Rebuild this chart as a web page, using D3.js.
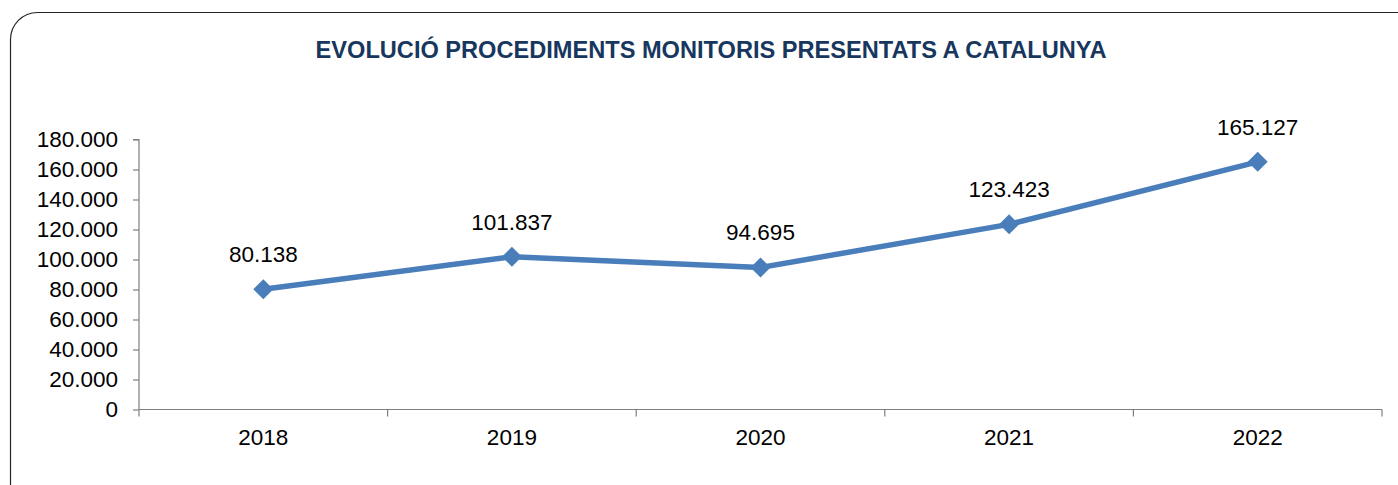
<!DOCTYPE html>
<html><head><meta charset="utf-8">
<script src="https://cdn.jsdelivr.net/npm/d3@7"></script>
<style>html,body{margin:0;padding:0;background:#fff;}svg{display:block;}</style>
</head><body>
<script>
const titleText = "EVOLUCIÓ PROCEDIMENTS MONITORIS PRESENTATS A CATALUNYA";
const years = ["2018", "2019", "2020", "2021", "2022"];
const values = [80138, 101837, 94695, 123423, 165127];
const yTicks = [0, 20000, 40000, 60000, 80000, 100000, 120000, 140000, 160000, 180000];

const W = 1398, H = 485;
const svg = d3.select("body").append("svg").attr("width", W).attr("height", H);
const font = "'Liberation Sans', Arial, sans-serif";

svg.append("rect").attr("x", 10.5).attr("y", 12.5).attr("width", 1430).attr("height", 500)
  .attr("rx", 27).attr("ry", 27).attr("fill", "#fff").attr("stroke", "#262626").attr("stroke-width", 1.2);

svg.append("text").attr("x", 711).attr("y", 58).attr("text-anchor", "middle")
  .attr("font-family", font).attr("font-weight", "bold").attr("font-size", 23.6)
  .attr("fill", "#17375e").text(titleText);

const pL = 139, pR = 1382, pT = 139.5, pB = 409.5;
const x = d3.scaleBand().domain(years).range([pL, pR]).padding(0);
const y = d3.scaleLinear().domain([0, 180000]).range([pB, pT]);
const fmt = v => d3.format(",")(v).replace(/,/g, ".");

const yAxis = svg.append("g").attr("transform", `translate(${pL},0)`)
  .call(d3.axisLeft(y).tickValues(yTicks).tickFormat(fmt).tickSize(6).tickPadding(15));
yAxis.selectAll("text").attr("font-family", font).attr("font-size", 22.5).attr("fill", "#000");
yAxis.selectAll("line,path").attr("stroke", "#7f7f7f").attr("stroke-width", 1.2);
yAxis.select(".domain").attr("d", `M-6,${pT}H0V${pB}`);

const xAxis = svg.append("g").attr("transform", `translate(0,${pB})`)
  .call(d3.axisBottom(x).tickSize(0).tickPadding(20));
xAxis.selectAll("text").attr("font-family", font).attr("font-size", 22.5).attr("fill", "#000");
xAxis.select(".domain").attr("d", `M${pL},0H${pR}`).attr("stroke", "#7f7f7f").attr("stroke-width", 1.2);
const bounds = years.map(d => x(d)).concat([pR]);
xAxis.selectAll(".sep").data(bounds).join("line").attr("class", "sep")
  .attr("x1", d => d).attr("x2", d => d).attr("y1", 0).attr("y2", 7)
  .attr("stroke", "#7f7f7f").attr("stroke-width", 1.2);

const cx = d => x(d) + x.bandwidth() / 2;
const data = years.map((yr, i) => ({yr, v: values[i]}));
svg.append("path").datum(data)
  .attr("d", d3.line().x(d => cx(d.yr)).y(d => y(d.v)))
  .attr("fill", "none").attr("stroke", "#4a7ebb").attr("stroke-width", 5.5).attr("stroke-linejoin", "round");

svg.selectAll(".mk").data(data).join("path").attr("class", "mk")
  .attr("transform", d => `translate(${cx(d.yr)},${y(d.v)})`)
  .attr("d", "M0,-10L10,0L0,10L-10,0Z").attr("fill", "#4a7ebb");

svg.selectAll(".lbl").data(data).join("text").attr("class", "lbl")
  .attr("x", d => cx(d.yr)).attr("y", d => y(d.v) - 27).attr("text-anchor", "middle")
  .attr("font-family", font).attr("font-size", 22.5).attr("fill", "#000").text(d => fmt(d.v));
</script>
</body></html>
